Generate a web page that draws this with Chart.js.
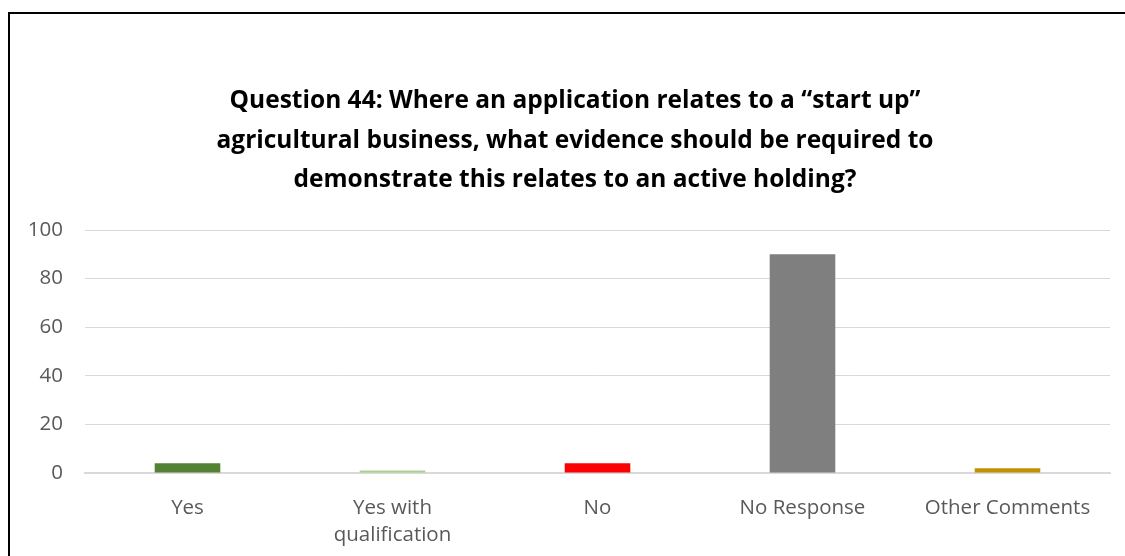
<!DOCTYPE html>
<html>
<head>
<meta charset="utf-8">
<script src="https://cdn.jsdelivr.net/npm/chart.js@4"></script>
<style>
    html, body { margin: 0; padding: 0; background: #fff; }
    #wrap { position: relative; width: 1125px; height: 556px; overflow: hidden; }
    #frame {
        position: absolute; left: 8px; top: 12px; width: 1200px; height: 600px;
        border-left: 2px solid #000; border-top: 2px solid #000;
    }
    #chart { position: absolute; left: 0; top: 0; }
</style>
</head>
<body>
<div id="wrap">
    <div id="frame"></div>
    <canvas id="chart" width="1125" height="556"></canvas>
</div>
<script>
    var categories = [['Yes'], ['Yes with', 'qualification'], ['No'], ['No Response'], ['Other Comments']];
    var responses = [4, 1, 4, 90, 2];
    var barColors = ['#548235', '#A9D18E', '#FF0000', '#7F7F7F', '#BF9000'];
    var titleLines = [
        'Question 44: Where an application relates to a \u201cstart up\u201d',
        'agricultural business, what evidence should be required to',
        'demonstrate this relates to an active holding?'
    ];

    var FONT = '"Open Sans", Lato, sans-serif';

    // the frame runs past the right edge, so its centre sits right of the canvas centre
    var shiftTitle = {
        id: 'shiftTitle',
        afterLayout: function (chart) {
            if (chart.titleBlock) {
                chart.titleBlock.left = 25;
                chart.titleBlock.right = 1125;
            }
        }
    };

    new Chart(document.getElementById('chart'), {
        type: 'bar',
        data: {
            labels: categories,
            datasets: [{
                data: responses,
                backgroundColor: barColors,
                borderWidth: 0,
                barPercentage: 0.64,
                categoryPercentage: 0.5
            }]
        },
        plugins: [shiftTitle],
        options: {
            responsive: false,
            animation: false,
            layout: { padding: { left: 0, right: 15, top: 0, bottom: 0 } },
            plugins: {
                legend: { display: false },
                tooltip: { enabled: false },
                title: {
                    display: true,
                    text: titleLines,
                    color: '#000000',
                    font: { family: FONT, size: 24.5, weight: 'bold', lineHeight: 1.62 },
                    padding: { top: 81, bottom: 30 }
                }
            },
            scales: {
                y: {
                    min: 0,
                    max: 100,
                    ticks: { stepSize: 20, color: '#595959', padding: 22, font: { family: FONT, size: 20.5 } },
                    grid: { color: '#D9D9D9', drawTicks: false },
                    border: { display: false },
                    afterFit: function (scale) { scale.width = 85; }
                },
                x: {
                    ticks: { color: '#595959', padding: 13, font: { family: FONT, size: 20.5, lineHeight: 1.35 } },
                    grid: { display: false },
                    border: { color: '#D9D9D9', width: 2 },
                    afterFit: function (scale) { scale.height = 83; }
                }
            }
        }
    });
</script>
</body>
</html>
